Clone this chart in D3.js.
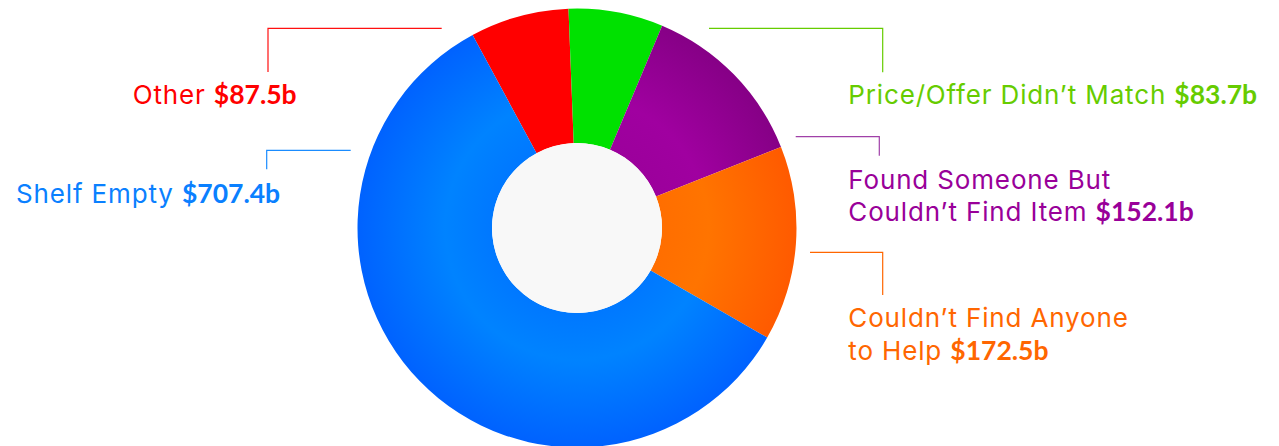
<!DOCTYPE html>
<html>
<head>
<meta charset="utf-8">
<script src="https://cdn.jsdelivr.net/npm/d3@7"></script>
<style>
  html, body { margin: 0; padding: 0; background: #ffffff; }
  svg { display: block; }
</style>
</head>
<body>
<svg id="chart" width="1279" height="446"></svg>
<script>
// Lost sales by reason (billions of dollars), in drawing order clockwise
const categories = ["Other", "Price/Offer Didn’t Match", "Found Someone But Couldn’t Find Item", "Couldn’t Find Anyone to Help", "Shelf Empty"];
const values = [87.5, 83.7, 152.1, 172.5, 707.4];
const valueLabels = ["$87.5b", "$83.7b", "$152.1b", "$172.5b", "$707.4b"];
// How each label's text wraps
const labelLines = [
  ["Other"],
  ["Price/Offer Didn’t Match"],
  ["Found Someone But", "Couldn’t Find Item"],
  ["Couldn’t Find Anyone", "to Help"],
  ["Shelf Empty"]
];

// Slice fills: [inner, middle, outer] for a radial shade
const sliceShades = [
  ["#ff0000", "#ff0000", "#ff0000"],
  ["#00e100", "#00e100", "#00e100"],
  ["#9c009c", "#a000a0", "#860086"],
  ["#ff6e00", "#ff7400", "#ff5a00"],
  ["#0078ff", "#0083ff", "#0062ff"]
];
const textColors = ["#ff0000", "#66cc00", "#990099", "#ff6600", "#0a80ff"];
const lineColors = ["#ff1010", "#66cc00", "#a040a8", "#ff6600", "#1a8cff"];

const svg = d3.select("#chart");
const cx = 577, cy = 228;
const outerR = 219.5, innerR = 85;

// Gradients live in the translated group's space, so they centre on 0,0
const defs = svg.append("defs");
sliceShades.forEach((s, i) => {
  const grad = defs.append("radialGradient")
    .attr("id", "shade" + i)
    .attr("gradientUnits", "userSpaceOnUse")
    .attr("cx", 0).attr("cy", 0).attr("r", outerR);
  grad.append("stop").attr("offset", innerR / outerR).attr("stop-color", s[0]);
  grad.append("stop").attr("offset", 0.6).attr("stop-color", s[1]);
  grad.append("stop").attr("offset", 1).attr("stop-color", s[2]);
});

const startDeg = -28.4;
const pie = d3.pie()
  .sort(null)
  .value(d => d)
  .startAngle(startDeg * Math.PI / 180)
  .endAngle((startDeg + 360) * Math.PI / 180);

const arc = d3.arc().innerRadius(innerR).outerRadius(outerR);

const g = svg.append("g").attr("transform", `translate(${cx},${cy})`);
g.selectAll("path.slice")
  .data(pie(values))
  .join("path")
  .attr("class", "slice")
  .attr("d", arc)
  .attr("fill", (d, i) => `url(#shade${i})`);

g.append("circle").attr("r", innerR).attr("fill", "#f8f8f8");

// Leader elbows and label anchors
const callouts = [
  { line: [[441.7, 28.3], [268, 28.3], [268, 72]], x: 132.7, y: 104 },
  { line: [[709, 28.3], [882.7, 28.3], [882.7, 72.3]], x: 848.3, y: 103.5 },
  { line: [[795.7, 136.7], [879.3, 136.7], [879.3, 155.7]], x: 848.3, y: 188.5 },
  { line: [[810, 252.3], [882.7, 252.3], [882.7, 295]], x: 848.3, y: 326.7 },
  { line: [[350.7, 150.3], [266.7, 150.3], [266.7, 169.3]], x: 16, y: 203 }
];

const lineHeight = 32.8;
const regularFont = "Inter, 'Liberation Sans', sans-serif";
const boldFont = "Lato, sans-serif";

callouts.forEach((c, i) => {
  svg.append("path")
    .attr("d", d3.line()(c.line))
    .attr("fill", "none")
    .attr("stroke", lineColors[i])
    .attr("stroke-width", 1.2);

  const t = svg.append("text")
    .attr("x", c.x).attr("y", c.y)
    .attr("fill", textColors[i])
    .style("font-family", regularFont)
    .style("font-size", "26px");

  const lines = labelLines[i];
  lines.forEach((ln, j) => {
    t.append("tspan")
      .attr("x", c.x)
      .attr("y", c.y + j * lineHeight)
      .style("letter-spacing", "0.85px")
      .text(ln + (j === lines.length - 1 ? " " : ""));
    if (j === lines.length - 1) {
      t.append("tspan")
        .style("font-family", boldFont)
        .style("font-weight", "700")
        .style("font-size", "26.5px")
        .style("letter-spacing", "0px")
        .text(valueLabels[i]);
    }
  });
});
</script>
</body>
</html>
